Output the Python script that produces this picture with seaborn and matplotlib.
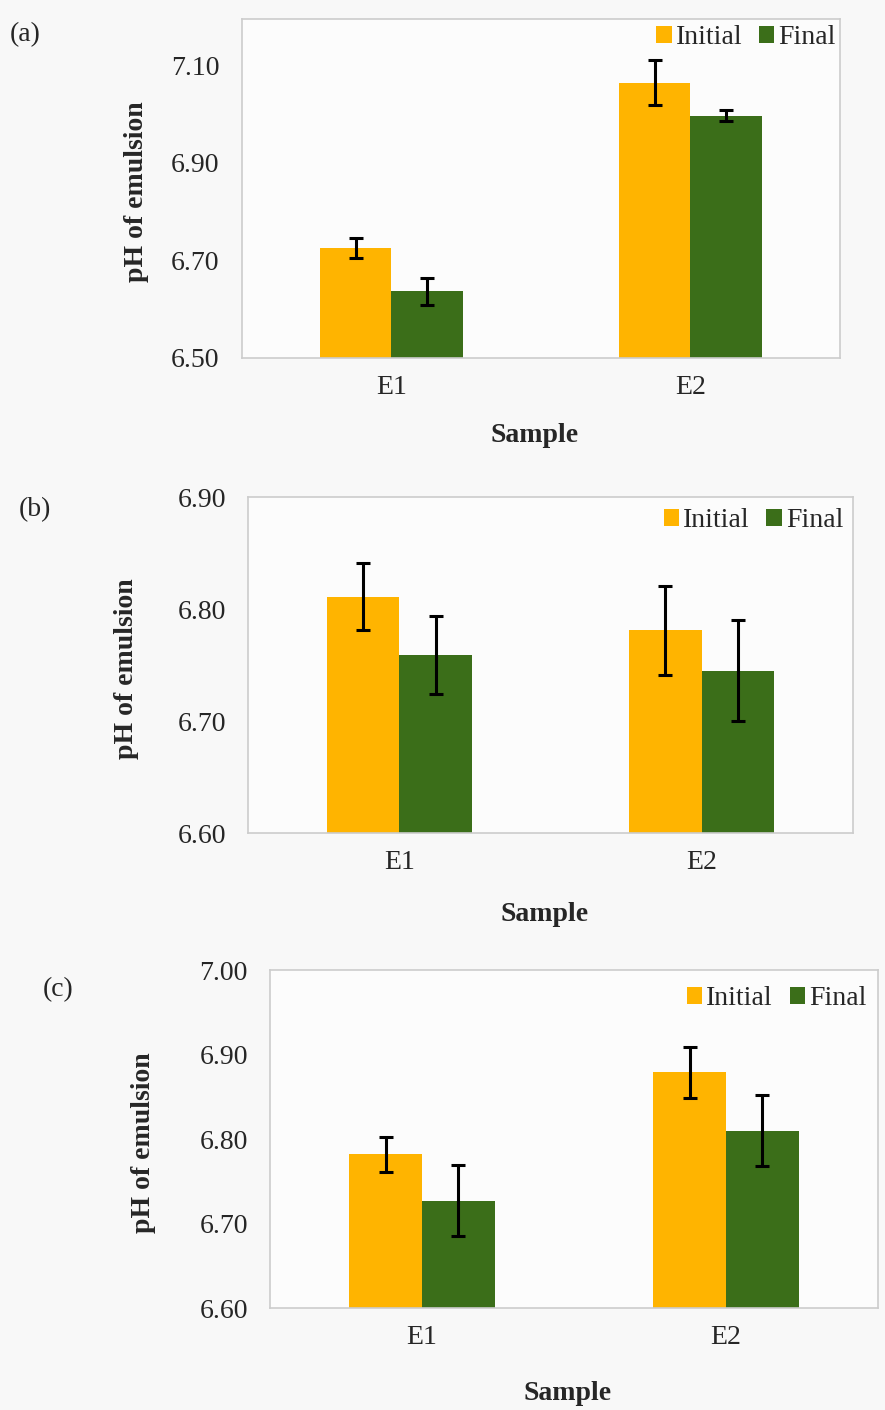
import pandas as pd
import matplotlib.pyplot as plt
import seaborn as sns

samples = ['E1', 'E2']
stages = ['Initial', 'Final']

# panel (a)
a_initial = [6.726, 7.064]
a_final = [6.637, 6.997]
a_initial_err = [0.021, 0.046]
a_final_err = [0.028, 0.011]

# panel (b)
b_initial = [6.811, 6.781]
b_final = [6.759, 6.745]
b_initial_err = [0.030, 0.040]
b_final_err = [0.035, 0.045]

# panel (c)
c_initial = [6.782, 6.879]
c_final = [6.727, 6.810]
c_initial_err = [0.021, 0.030]
c_final_err = [0.042, 0.042]

colors = ['#FFB400', '#3B6E19']

sns.set_theme(style='white')
plt.rcParams['font.family'] = ['Liberation Serif', 'DejaVu Serif']


def make_df(initial, final, ierr, ferr):
    rows = []
    for s, v, e in zip(samples, initial, ierr):
        rows.append({'Sample': s, 'Stage': 'Initial', 'pH': v, 'err': e})
    for s, v, e in zip(samples, final, ferr):
        rows.append({'Sample': s, 'Stage': 'Final', 'pH': v, 'err': e})
    return pd.DataFrame(rows)


def draw_panel(ax, df, ylim, yticks, ylab_x, xlab_y, leg_xy):
    sns.barplot(data=df, x='Sample', y='pH', hue='Stage', hue_order=stages,
                order=samples, palette=colors, width=0.48, errorbar=None,
                saturation=1, linewidth=0, ax=ax)
    # error bars at the centre of each bar
    for cont, stage in zip(ax.containers, stages):
        sub = df[df['Stage'] == stage].set_index('Sample').loc[samples]
        xs = [p.get_x() + p.get_width() / 2 for p in cont.patches]
        ax.errorbar(xs, sub['pH'], yerr=sub['err'], fmt='none', ecolor='black',
                    elinewidth=2.2, capsize=5, capthick=2.2)
    ax.set_ylim(*ylim)
    ax.set_yticks(yticks)
    ax.set_yticklabels([f'{t:.2f}' for t in yticks])
    ax.set_xlim(-0.5, 1.5)
    ax.tick_params(axis='y', length=0, pad=16, labelsize=20)
    ax.tick_params(axis='x', length=0, pad=12, labelsize=20)
    ax.set_facecolor('#fcfcfc')
    for sp in ax.spines.values():
        sp.set_color('#cccccc')
        sp.set_linewidth(1.2)
    ax.set_ylabel('pH of emulsion', fontsize=20, fontweight='bold')
    ax.set_xlabel('Sample', fontsize=20, fontweight='bold')
    ax.yaxis.set_label_coords(ylab_x, 0.49)
    ax.xaxis.set_label_coords(0.49, xlab_y)
    handles, labels = ax.get_legend_handles_labels()
    ax.legend(handles, labels, loc='upper right', bbox_to_anchor=leg_xy,
              ncol=2, frameon=False, fontsize=20, handlelength=0.55,
              handleheight=0.55, handletextpad=0.15, columnspacing=0.6)


fig = plt.figure(figsize=(8.85, 14.1), dpi=100)
fig.patch.set_facecolor('#f8f8f8')

ax_a = fig.add_axes([0.2734, 0.7461, 0.6757, 0.2404])
ax_b = fig.add_axes([0.2802, 0.4092, 0.6836, 0.2383])
ax_c = fig.add_axes([0.3051, 0.0723, 0.6870, 0.2397])

draw_panel(ax_a, make_df(a_initial, a_final, a_initial_err, a_final_err),
           (6.50, 7.195), [6.50, 6.70, 6.90, 7.10], -0.156, -0.192, (1.035, 1.056))
draw_panel(ax_b, make_df(b_initial, b_final, b_initial_err, b_final_err),
           (6.60, 6.90), [6.60, 6.70, 6.80, 6.90], -0.180, -0.205, (1.025, 1.041))
draw_panel(ax_c, make_df(c_initial, c_final, c_initial_err, c_final_err),
           (6.60, 7.00), [6.60, 6.70, 6.80, 6.90, 7.00], -0.1875, -0.216, (1.022, 1.026))

fig.text(25 / 885, 1 - 35 / 1410, '(a)', fontsize=20, ha='center', va='center')
fig.text(35 / 885, 1 - 510 / 1410, '(b)', fontsize=20, ha='center', va='center')
fig.text(58 / 885, 1 - 990 / 1410, '(c)', fontsize=20, ha='center', va='center')

plt.savefig('out.png', dpi=100, facecolor=fig.get_facecolor())
